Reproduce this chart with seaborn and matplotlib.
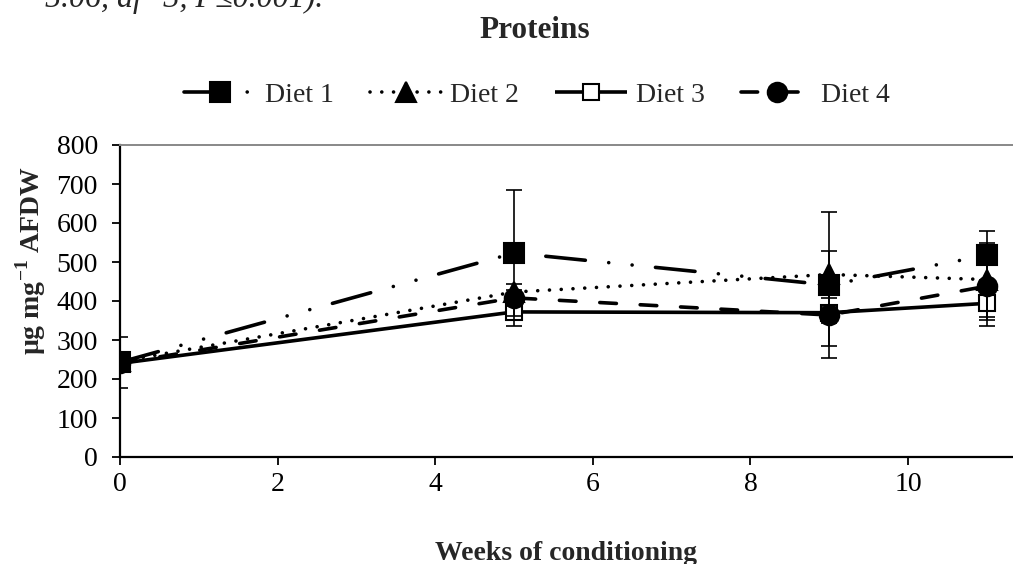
import numpy as np
import pandas as pd
import matplotlib
matplotlib.use("Agg")
import matplotlib.pyplot as plt
import seaborn as sns

weeks = [0, 5, 9, 11]
diet1 = [243, 523, 441, 517]
diet2 = [245, 423, 468, 455]
diet3 = [240, 372, 370, 394]
diet4 = [240, 408, 364, 438]
err1 = [65, 162, 188, 62]
err2 = [15, 20, 60, 95]
err3 = [15, 35, 85, 57]
err4 = [15, 20, 20, 86]
labels = ["Diet 1", "Diet 2", "Diet 3", "Diet 4"]
title = "Proteins"
xlabel = "Weeks of conditioning"
ylabel = "µg mg$^{\\mathbf{-1}}$ AFDW"
caption = "5.06, df=3, P\u22640.001)."

sns.set_theme(style="ticks")
plt.rcParams["font.family"] = ["Liberation Serif", "DejaVu Serif"]
plt.rcParams["mathtext.fontset"] = "custom"
plt.rcParams["mathtext.rm"] = "Liberation Serif"
plt.rcParams["mathtext.bf"] = "Liberation Serif:bold"

df = pd.DataFrame({
    "week": weeks * 4,
    "value": diet1 + diet2 + diet3 + diet4,
    "diet": sum([[l] * 4 for l in labels], []),
})

fig = plt.figure(figsize=(10.13, 5.64), dpi=100)
ax = fig.add_axes([120 / 1013, 107 / 564, 1 - 120 / 1013, 312 / 564])

lw = 2.6
styles = {
    "Diet 1": dict(ls=(0, (11, 6.5, 0.01, 6.5, 0.01, 6.5)), marker="s", mfc="black", ms=14),
    "Diet 2": dict(ls=(0, (0.01, 3.25)), marker="^", mfc="black", ms=14),
    "Diet 3": dict(ls="-", marker="s", mfc="white", ms=12),
    "Diet 4": dict(ls=(0, (4.6, 6.6)), marker="o", mfc="black", ms=14),
}
errs = {"Diet 1": err1, "Diet 2": err2, "Diet 3": err3, "Diet 4": err4}

for i, lab in enumerate(labels):
    sub = df[df["diet"] == lab]
    n_before = len(ax.lines)
    sns.lineplot(data=sub, x="week", y="value", ax=ax, color="black",
                 errorbar=None, label=lab, linewidth=lw)
    line = ax.lines[n_before]
    st = styles[lab]
    line.set_linestyle(st["ls"])
    line.set_dash_capstyle("round")
    line.set_solid_capstyle("butt")
    line.set_marker(st["marker"])
    line.set_markersize(st["ms"])
    line.set_markerfacecolor(st["mfc"])
    line.set_markeredgecolor("black")
    line.set_markeredgewidth(1.5)
    line.set_zorder(3 + i * 0.1)
    ax.errorbar(sub["week"], sub["value"], yerr=errs[lab], fmt="none",
                ecolor="black", elinewidth=1.2, capsize=6, capthick=1.2, zorder=4)

ax.set_xlim(0, (1013 - 120) / 78.8)
ax.set_ylim(0, 800)
ax.set_xticks([0, 2, 4, 6, 8, 10])
ax.set_yticks(range(0, 801, 100))
ax.tick_params(axis="both", direction="out", length=6, width=1.3, labelsize=20,
               colors="black", pad=5)
ax.tick_params(axis="y", pad=10)
for s in ["left", "bottom"]:
    ax.spines[s].set_color("black")
    ax.spines[s].set_linewidth(1.6)
ax.spines["top"].set_color("#888888")
ax.spines["top"].set_linewidth(1.4)
ax.spines["right"].set_visible(False)

ax.set_xlabel("")
ax.set_ylabel("")
fig.text(31 / 1013, 1 - 261 / 564, ylabel, rotation=90, ha="center", va="center",
         fontsize=20, fontweight="bold")
fig.text(566 / 1013, 1 - 560 / 564, xlabel, ha="center", va="baseline",
         fontsize=20, fontweight="bold")
fig.text(535 / 1013, 1 - 38 / 564, title, ha="center", va="baseline",
         fontsize=22.5, fontweight="bold")
fig.text(45 / 1013, 1 - 7 / 564, caption, ha="left", va="baseline",
         fontsize=23, style="italic")

leg = ax.legend(loc="center", bbox_to_anchor=(537 / 1013, 1 - 95 / 564),
                bbox_transform=fig.transFigure, ncol=4, frameon=False,
                fontsize=20, handlelength=2.6, handletextpad=0.3,
                columnspacing=1.3, numpoints=1)

fig.savefig("out.png", dpi=100)
